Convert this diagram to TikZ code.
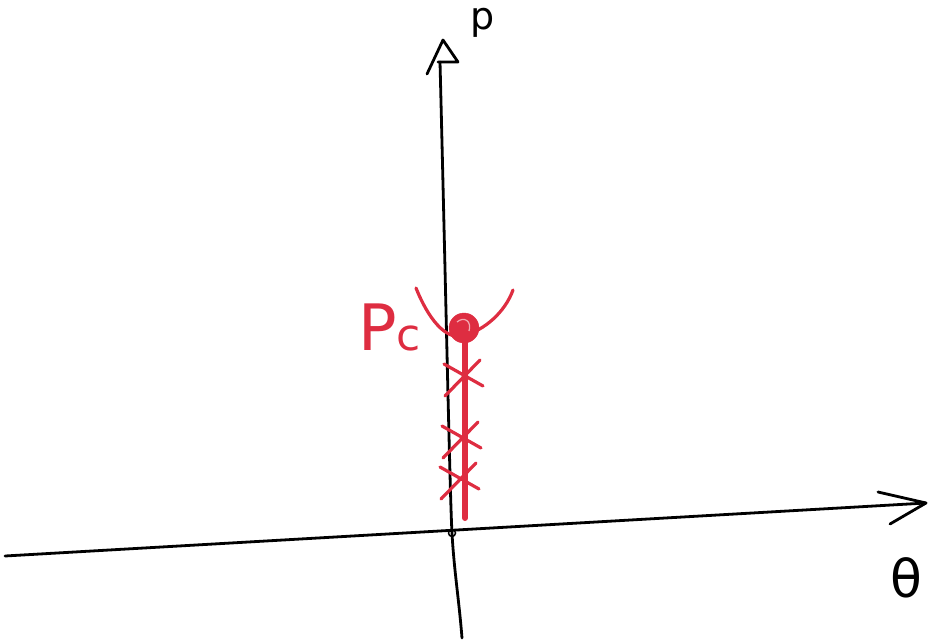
\documentclass[tikz,border=0pt]{standalone}
\usepackage{fontspec}
\setmainfont{DejaVu Sans}
\usetikzlibrary{calc}
\begin{document}
\begin{tikzpicture}[x=1pt,y=-1pt,
  axis/.style={line width=2.8pt,draw=black,line cap=round,line join=round},
  redline/.style={line width=3.2pt,line cap=round},
  redthick/.style={line width=6pt,line cap=round},
  lbl/.style={inner sep=0pt,font=\fontsize{40}{40}\selectfont}]
\definecolor{pen}{RGB}{222,45,65}
\useasboundingbox (0,0) rectangle (929,642);
% horizontal axis
\coordinate (xl) at (5,556);
\coordinate (xr) at (926,503);
\coordinate (xa1) at (878,492);
\coordinate (xa2) at (890,524);
\draw[axis] (xl) -- (xr);
\draw[axis] (xa1) -- (xr) -- (xa2);
% vertical axis
\coordinate (yb) at (462,638);
\coordinate (yt) at (440,62);
\coordinate (ya) at (443,40);
\coordinate (yal) at (427,74);
\coordinate (yar) at (458,62);
\coordinate (ym) at (452,533);
\draw[axis] (yt) .. controls (446,300) and (450,500) .. (ym) .. controls (454,570) and (459,600) .. (yb);
\draw[axis] (yal) -- (ya) -- (yar) -- (438,62);
\node[lbl,anchor=base,font=\fontsize{38}{38}\selectfont] (plab) at (483,30) {p};
\node[lbl,font=\fontsize{52}{52}\selectfont] (tlab) at (906,578) {θ};
% origin mark
\node[draw=black,circle,minimum size=7pt,inner sep=0pt,line width=1.5pt] (o) at (ym) {};
% red parts
\draw[redthick,draw=pen] (465,338) -- (465,518);
\draw[redline,draw=pen] (416,288) .. controls (428,318) and (445,340) .. (463,336)
   .. controls (485,330) and (505,312) .. (513,290);
\node[circle,fill=pen,draw=pen,minimum size=30pt,inner sep=0pt] (pc) at (464,328) {};
\draw[line width=1.2pt,draw=white!60!pen] (457,322) .. controls (464,316) and (472,321) .. (469,331);
% crosses
\foreach \cx/\cy [count=\i] in {465/374, 463/436, 461/477}{
  \coordinate (c\i) at (\cx,\cy);
  \draw[redline,draw=pen] ($(c\i)+(-21,-10)$) -- ($(c\i)+(18,12)$);
  \draw[redline,draw=pen] ($(c\i)+(15,-14)$) -- ($(c\i)+(-20,22)$);
}
\node[lbl,text=pen,font=\fontsize{64}{64}\selectfont,anchor=base west] (pclab) at (358,350) {P\fontsize{44}{44}\selectfont c};
\end{tikzpicture}
\end{document}
